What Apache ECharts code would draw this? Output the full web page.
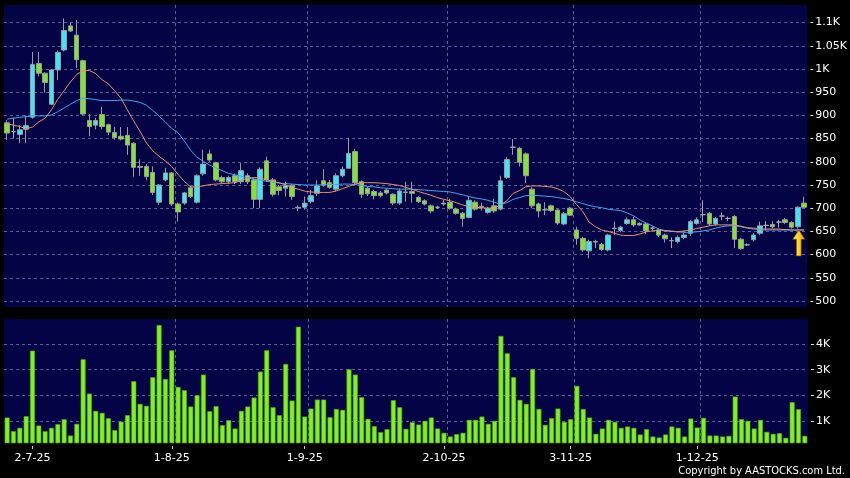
<!DOCTYPE html>
<html>
<head>
<meta charset="utf-8">
<script src="https://cdn.jsdelivr.net/npm/echarts@6/dist/echarts.min.js"></script>
<style>
html,body{margin:0;padding:0;background:#000;}
#chart{width:850px;height:478px;}
</style>
</head>
<body>
<div id="chart"></div>
<script>
const categories = [
'25-6-25','26-6-25','27-6-25','30-6-25',
'2-7-25','3-7-25','4-7-25','7-7-25','8-7-25','9-7-25','10-7-25','11-7-25','14-7-25','15-7-25','16-7-25','17-7-25','18-7-25','21-7-25','22-7-25','23-7-25','24-7-25','25-7-25','28-7-25','29-7-25','30-7-25','31-7-25',
'1-8-25','4-8-25','5-8-25','6-8-25','7-8-25','8-8-25','11-8-25','12-8-25','13-8-25','14-8-25','15-8-25','18-8-25','19-8-25','20-8-25','21-8-25','22-8-25','25-8-25','26-8-25','27-8-25','28-8-25','29-8-25',
'1-9-25','2-9-25','3-9-25','4-9-25','5-9-25','8-9-25','9-9-25','10-9-25','11-9-25','12-9-25','15-9-25','16-9-25','17-9-25','18-9-25','19-9-25','22-9-25','23-9-25','24-9-25','25-9-25','26-9-25','29-9-25','30-9-25',
'2-10-25','3-10-25','6-10-25','8-10-25','9-10-25','10-10-25','13-10-25','14-10-25','15-10-25','16-10-25','17-10-25','20-10-25','21-10-25','22-10-25','23-10-25','24-10-25','27-10-25','28-10-25','30-10-25','31-10-25',
'3-11-25','4-11-25','5-11-25','6-11-25','7-11-25','10-11-25','11-11-25','12-11-25','13-11-25','14-11-25','17-11-25','18-11-25','19-11-25','20-11-25','21-11-25','24-11-25','25-11-25','26-11-25','27-11-25','28-11-25',
'1-12-25','2-12-25','3-12-25','4-12-25','5-12-25','8-12-25','9-12-25','10-12-25','11-12-25','12-12-25','15-12-25','16-12-25','17-12-25','18-12-25','19-12-25','22-12-25','23-12-25','24-12-25'
];
const tickLabels = ['2-7-25','1-8-25','1-9-25','2-10-25','3-11-25','1-12-25'];

const opens = [884,865,859,870,896,1012,991,924,998,1041,1093,1073,1018,889,879,902,880,863,855,857,840,790,790,777,713,761,776,709,711,744,713,774,817,798,766,757,770,757,770,761,719,802,761,746,743,749,702,702,714,732,759,755,741,770,786,822,757,743,736,733,739,730,711,735,736,723,716,705,702,709,712,698,689,680,713,704,691,705,698,766,832,829,817,741,709,697,705,696,666,700,653,635,608,628,622,610,657,652,667,675,664,666,657,653,642,630,628,637,646,667,686,689,666,683,678,682,633,621,632,646,663,665,670,675,669,660,711];
const closes = [862,865,869,878,1010,991,971,998,1036,1083,1082,1020,903,876,889,876,864,852,849,836,788,788,768,734,750,776,709,692,733,725,770,795,804,761,757,766,757,781,757,719,784,761,730,738,749,725,701,711,727,748,750,745,770,784,818,755,730,731,727,727,733,711,737,734,732,714,709,694,702,711,700,689,678,717,698,701,700,694,759,805,831,799,770,705,694,696,695,668,688,685,635,610,628,627,611,642,656,659,675,664,667,651,657,642,634,630,637,642,671,675,686,666,678,683,678,633,613,621,642,662,663,660,670,669,659,702,702];
const lows = [847,850,840,840,893,984,949,922,976,1038,1080,1002,900,855,870,870,857,848,846,815,768,770,760,728,707,758,705,671,707,722,710,770,800,758,753,752,752,752,752,700,700,757,725,728,725,718,694,697,710,726,746,742,736,767,786,752,722,726,719,723,730,706,707,714,712,711,706,689,699,705,697,686,660,678,695,695,688,690,695,763,815,790,754,700,680,685,692,664,663,683,621,606,592,614,608,607,642,648,664,660,662,644,652,638,626,614,624,633,640,664,670,662,662,674,672,614,610,619,628,642,652,656,658,666,656,656,700];
const highs = [890,895,879,900,1037,1037,993,1000,1040,1109,1100,1106,1020,903,895,918,882,875,875,875,842,805,795,790,752,787,778,712,735,748,773,826,826,800,770,770,775,797,775,765,788,811,765,750,757,752,706,725,739,760,784,761,775,790,851,828,760,746,740,737,742,732,742,757,757,726,719,708,705,718,720,701,692,724,717,712,703,720,770,810,849,832,820,745,712,713,708,698,692,703,660,638,632,632,625,645,671,662,680,682,670,669,661,656,645,637,641,646,674,680,717,692,681,691,682,685,636,624,646,671,672,672,675,679,672,704,725];
const volumes = [1140,612,740,1194,3740,830,612,740,884,1078,441,895,3405,2071,1400,1322,1116,651,984,1233,2552,1671,1594,2707,4736,2641,3754,2331,2203,1567,2009,2808,1388,1582,845,1039,713,1400,1567,1916,2924,3754,1543,1233,3223,1800,4670,1178,1489,1838,1838,1155,1474,1438,3017,2808,1931,1089,806,573,690,1815,1543,701,961,868,1012,1140,713,546,403,496,546,1050,1050,1178,895,1012,4310,3638,2707,1826,1671,3029,1474,856,1116,1489,973,1078,2370,1474,1140,507,713,1050,973,740,791,740,480,690,403,364,480,791,740,403,1101,752,1128,441,441,403,428,1955,1078,1012,713,1050,585,507,533,352,1737,1465,428];
const maShort = [882,879,876,871,875,886,894,912,935,953,972,988,997,997,990,977,968,953,937,912,888,866,841,824,812,802,790,773,758,746,746,748,751,752,753,754,755,760,765,766,765,761,758,755,750,745,741,737,735,734,734,734,737,742,747,752,755,755,755,754,753,751,749,745,741,736,732,728,723,719,716,712,707,704,702,701,700,700,707,716,732,738,746,748,748,747,746,742,736,725,708,693,670,660,653,650,646,642,641,641,644,649,651,653,651,650,649,651,653,656,659,662,664,664,664,664,661,658,657,656,655,655,655,654,653,653,653];
const maLong = [892,894,896,897,899,899,899,901,908,916,924,932,937,936,934,932,932,932,933,933,931,928,922,911,899,886,872,863,845,825,810,801,793,787,781,775,772,769,765,763,761,758,756,754,753,752,751,750,750,750,750,751,751,752,752,751,749,747,746,744,743,742,741,741,741,740,739,738,737,736,735,732,729,725,722,720,717,713,708,712,719,723,727,728,727,726,725,723,721,718,714,710,706,703,701,698,696,695,690,684,675,668,662,655,652,651,649,648,648,649,651,653,657,660,662,662,660,657,655,654,653,653,653,653,653,653,653];
const arrowIndex = 125;
const priceAxisRange = [487, 1138];
const volumeAxisRange = [150, 4970];

const candleData = opens.map((o, i) => [o, closes[i], lows[i], highs[i]]);
const kFmt = v => v >= 1000 ? (Math.round(v / 10) / 100) + 'K' : String(v);
const isLabelIdx = (idx) => tickLabels.indexOf(categories[idx]) >= 0;
const isGridIdx = (idx) => idx > 0 && tickLabels.indexOf(categories[idx - 1]) >= 0;

const gridLine = { color: '#5e5e94', width: 1, type: [3, 3] };
const labelFont = 'DejaVu Sans';

const chart = echarts.init(document.getElementById('chart'), null, { renderer: 'canvas' });
chart.setOption({
  backgroundColor: '#000000',
  animation: false,
  grid: [
    { left: 4, top: 5, width: 804, height: 302, show: true, backgroundColor: '#030346', borderWidth: 0 },
    { left: 4, top: 319, width: 804, height: 124, show: true, backgroundColor: '#030346', borderWidth: 0 }
  ],
  xAxis: [
    { type: 'category', gridIndex: 0, data: categories, boundaryGap: true,
      axisLine: { show: false }, axisTick: { show: false }, axisLabel: { show: false },
      splitLine: { show: true, interval: isGridIdx, showMinLine: false, showMaxLine: false, lineStyle: gridLine } },
    { type: 'category', gridIndex: 1, data: categories, boundaryGap: true, offset: 3,
      axisLine: { show: false },
      axisTick: { show: true, alignWithLabel: true, interval: isLabelIdx, length: 3, lineStyle: { color: '#cccccc' } },
      axisLabel: { show: true, interval: isLabelIdx, color: '#ffffff', fontSize: 11, fontFamily: labelFont, margin: 7 },
      splitLine: { show: true, interval: isGridIdx, showMinLine: false, showMaxLine: false, lineStyle: gridLine } }
  ],
  yAxis: [
    { type: 'value', gridIndex: 0, position: 'right', min: priceAxisRange[0], max: priceAxisRange[1], splitNumber: 13, offset: 3,
      axisLine: { show: false },
      axisTick: { show: true, length: 3, lineStyle: { color: '#dddddd' } },
      axisLabel: { color: '#ffffff', fontSize: 11, fontFamily: labelFont, margin: 5, formatter: kFmt, showMinLabel: false, showMaxLabel: false },
      splitLine: { show: true, showMinLine: false, showMaxLine: false, lineStyle: gridLine } },
    { type: 'value', gridIndex: 1, position: 'right', min: volumeAxisRange[0], max: volumeAxisRange[1], splitNumber: 5, offset: 3,
      axisLine: { show: false },
      axisTick: { show: true, length: 3, lineStyle: { color: '#dddddd' } },
      axisLabel: { color: '#ffffff', fontSize: 11, fontFamily: labelFont, margin: 5, formatter: kFmt, showMinLabel: false, showMaxLabel: false },
      splitLine: { show: true, showMinLine: false, showMaxLine: false, lineStyle: gridLine } }
  ],
  series: [
    { type: 'candlestick', xAxisIndex: 0, yAxisIndex: 0, data: candleData, barWidth: 5,
      itemStyle: { color: '#3de6f4', color0: '#80e62c', borderColor: '#9c9c9c', borderColor0: '#9c9c9c', borderColorDoji: '#aaaaaa', borderWidth: 1 },
      markPoint: {
        symbol: 'path://M5,0 L10,9 L7,9 L7,25 L3,25 L3,9 L0,9 Z',
        symbolSize: [12, 26], symbolOffset: [1, '55%'], silent: true,
        label: { show: false },
        itemStyle: { color: new echarts.graphic.LinearGradient(0, 0, 1, 0, [{ offset: 0, color: '#fff27a' }, { offset: 0.5, color: '#ffd21e' }, { offset: 1, color: '#d99a00' }]), borderColor: '#7a5a00', borderWidth: 0.6 },
        data: [{ coord: [categories[arrowIndex], lows[arrowIndex]] }]
      } },
    { type: 'line', xAxisIndex: 0, yAxisIndex: 0, data: maLong, showSymbol: false, smooth: false,
      lineStyle: { color: '#44a6ee', width: 1 }, z: 3 },
    { type: 'line', xAxisIndex: 0, yAxisIndex: 0, data: maShort, showSymbol: false, smooth: false,
      lineStyle: { color: '#e8916a', width: 1 }, z: 3 },
    { type: 'bar', xAxisIndex: 1, yAxisIndex: 1, data: volumes, barWidth: 5,
      itemStyle: { color: '#80f020', borderColor: '#4f9a16', borderWidth: 0.6 } }
  ],
  graphic: [
    { type: 'text', right: 5, bottom: 1, style: { text: 'Copyright by AASTOCKS.com Ltd.', fill: '#ffffff', font: '11px "DejaVu Sans Condensed", "DejaVu Sans", sans-serif' } }
  ]
});
</script>
</body>
</html>
